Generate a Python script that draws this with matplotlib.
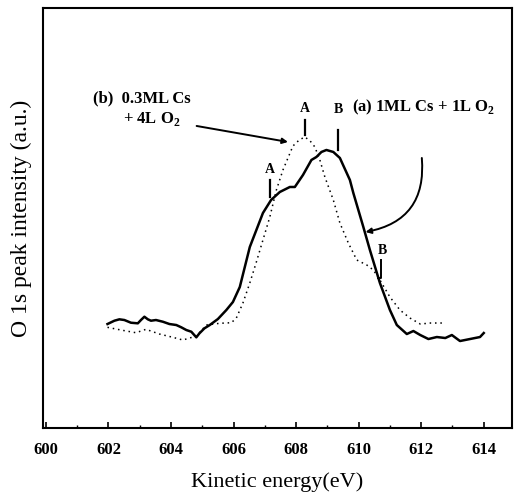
import numpy as np
import matplotlib
matplotlib.use("Agg")
from matplotlib import pyplot as plt

# curve (a) 1ML Cs + 1L O2 (solid)
x_a = [601.97, 602.19, 602.35, 602.51, 602.72, 602.94, 603.04, 603.15, 603.26, 603.36,
       603.52, 603.74, 603.95, 604.17, 604.33, 604.49, 604.65, 604.81, 604.91, 605.07,
       605.24, 605.5, 605.77, 605.98, 606.2, 606.36, 606.52, 606.73, 606.94, 607.2,
       607.48, 607.8, 607.96, 608.22, 608.49, 608.65, 608.81, 608.97, 609.19, 609.4,
       609.72, 609.83, 610.15, 610.36, 610.68, 611.0, 611.22, 611.54, 611.75, 611.97,
       612.23, 612.5, 612.77, 612.98, 613.24, 613.56, 613.88, 614.0]
y_a = [104, 107.3, 108.7, 108, 105.3, 104.7, 108, 111.3, 108.7, 107.3,
       108, 106.3, 104, 103, 100.7, 98, 96.3, 90.7, 94.7, 99.7,
       103, 109, 118, 126, 141, 161, 181, 198, 215, 228,
       236, 241, 241, 253, 268, 271, 276, 278, 276, 270,
       248, 235, 201, 178, 145, 118, 103, 94, 97, 93,
       89, 91, 90, 93, 87, 89, 91, 95]

# curve (b) 0.3ML Cs + 4L O2 (dotted)
x_b = [601.97, 602.4, 602.88, 603.2, 603.63, 604.06, 604.38, 604.81, 605.13, 605.55,
       605.93, 606.09, 606.3, 606.52, 606.73, 606.94, 607.16, 607.37, 607.58, 607.9,
       608.1, 608.28, 608.45, 608.6, 608.76, 608.92, 609.19, 609.4, 609.67, 609.94,
       610.26, 610.47, 610.68, 611.0, 611.32, 611.64, 611.97, 612.3, 612.7]
y_b = [100.7, 98, 95.3, 98.7, 94, 90.7, 88, 92, 103, 104.7,
       105.3, 110, 125, 145, 166, 188, 211, 238, 258, 282,
       288, 291, 287, 281, 268, 251, 228, 205, 185, 168,
       163, 158, 148, 131, 118, 110, 104, 105, 105]

xticks = [600, 602, 604, 606, 608, 610, 612, 614]

plt.rcParams['font.family'] = ['Liberation Serif', 'DejaVu Serif']
plt.rcParams['mathtext.fontset'] = 'custom'
plt.rcParams['mathtext.rm'] = 'Liberation Serif'
plt.rcParams['mathtext.bf'] = 'Liberation Serif:bold'

fig = plt.figure(figsize=(5.15, 4.96), dpi=100)
ax = fig.add_axes([0.083, 0.137, 0.911, 0.847])

ax.plot(x_a, y_a, color='black', lw=1.8)
ax.plot(x_b, y_b, color='black', lw=1.1, linestyle=(0, (1, 2.5)))

ax.set_xlim(599.9, 614.9)
ax.set_ylim(0, 420)
ax.set_xticks(xticks)
ax.set_xticks(np.arange(601, 615, 2), minor=True)
ax.set_yticks([])
ax.tick_params(axis='x', which='major', direction='in', length=4, width=1.2,
               labelsize=12, pad=10)
ax.tick_params(axis='x', which='minor', direction='in', length=2.5, width=1)
for lab in ax.get_xticklabels():
    lab.set_fontweight('bold')
for sp in ax.spines.values():
    sp.set_linewidth(1.5)

ax.set_xlabel('Kinetic energy(eV)', fontsize=16, labelpad=10)
ax.set_ylabel('O 1s peak intensity (a.u.)', fontsize=17, labelpad=8)

# peak markers
kw = dict(ha='center', va='bottom', fontsize=10, fontweight='bold')
ax.plot([608.28, 608.28], [293, 308], color='black', lw=1.6)
ax.text(608.28, 313, 'A', **kw)
ax.plot([609.35, 609.35], [278, 298], color='black', lw=1.6)
ax.text(609.35, 312, 'B', **kw)
ax.plot([607.16, 607.16], [231, 248], color='black', lw=1.6)
ax.text(607.16, 252, 'A', **kw)
ax.plot([610.72, 610.72, 610.62], [168, 150, 150], color='black', lw=1.4)
ax.text(610.76, 171, 'B', **kw)

ax.text(609.8, 321, r'(a) 1ML Cs + 1L O$_\mathbf{2}$', fontsize=12, fontweight='bold',
        va='center', ha='left')
ax.text(601.5, 330, '(b)  0.3ML Cs', fontsize=12, fontweight='bold', va='center')
ax.text(602.45, 309, r'+ 4L O$_\mathbf{2}$', fontsize=12, fontweight='bold', va='center')

ax.annotate('', xy=(607.74, 286), xytext=(604.82, 302),
            arrowprops=dict(arrowstyle='-|>', color='black', lw=1.4,
                            mutation_scale=8, shrinkA=0, shrinkB=0))
ax.annotate('', xy=(610.22, 196), xytext=(612.02, 270),
            arrowprops=dict(arrowstyle='-|>', color='black', lw=1.4,
                            mutation_scale=8, shrinkA=0, shrinkB=0,
                            connectionstyle='arc3,rad=-0.45'))

fig.savefig('out.png', dpi=100)
